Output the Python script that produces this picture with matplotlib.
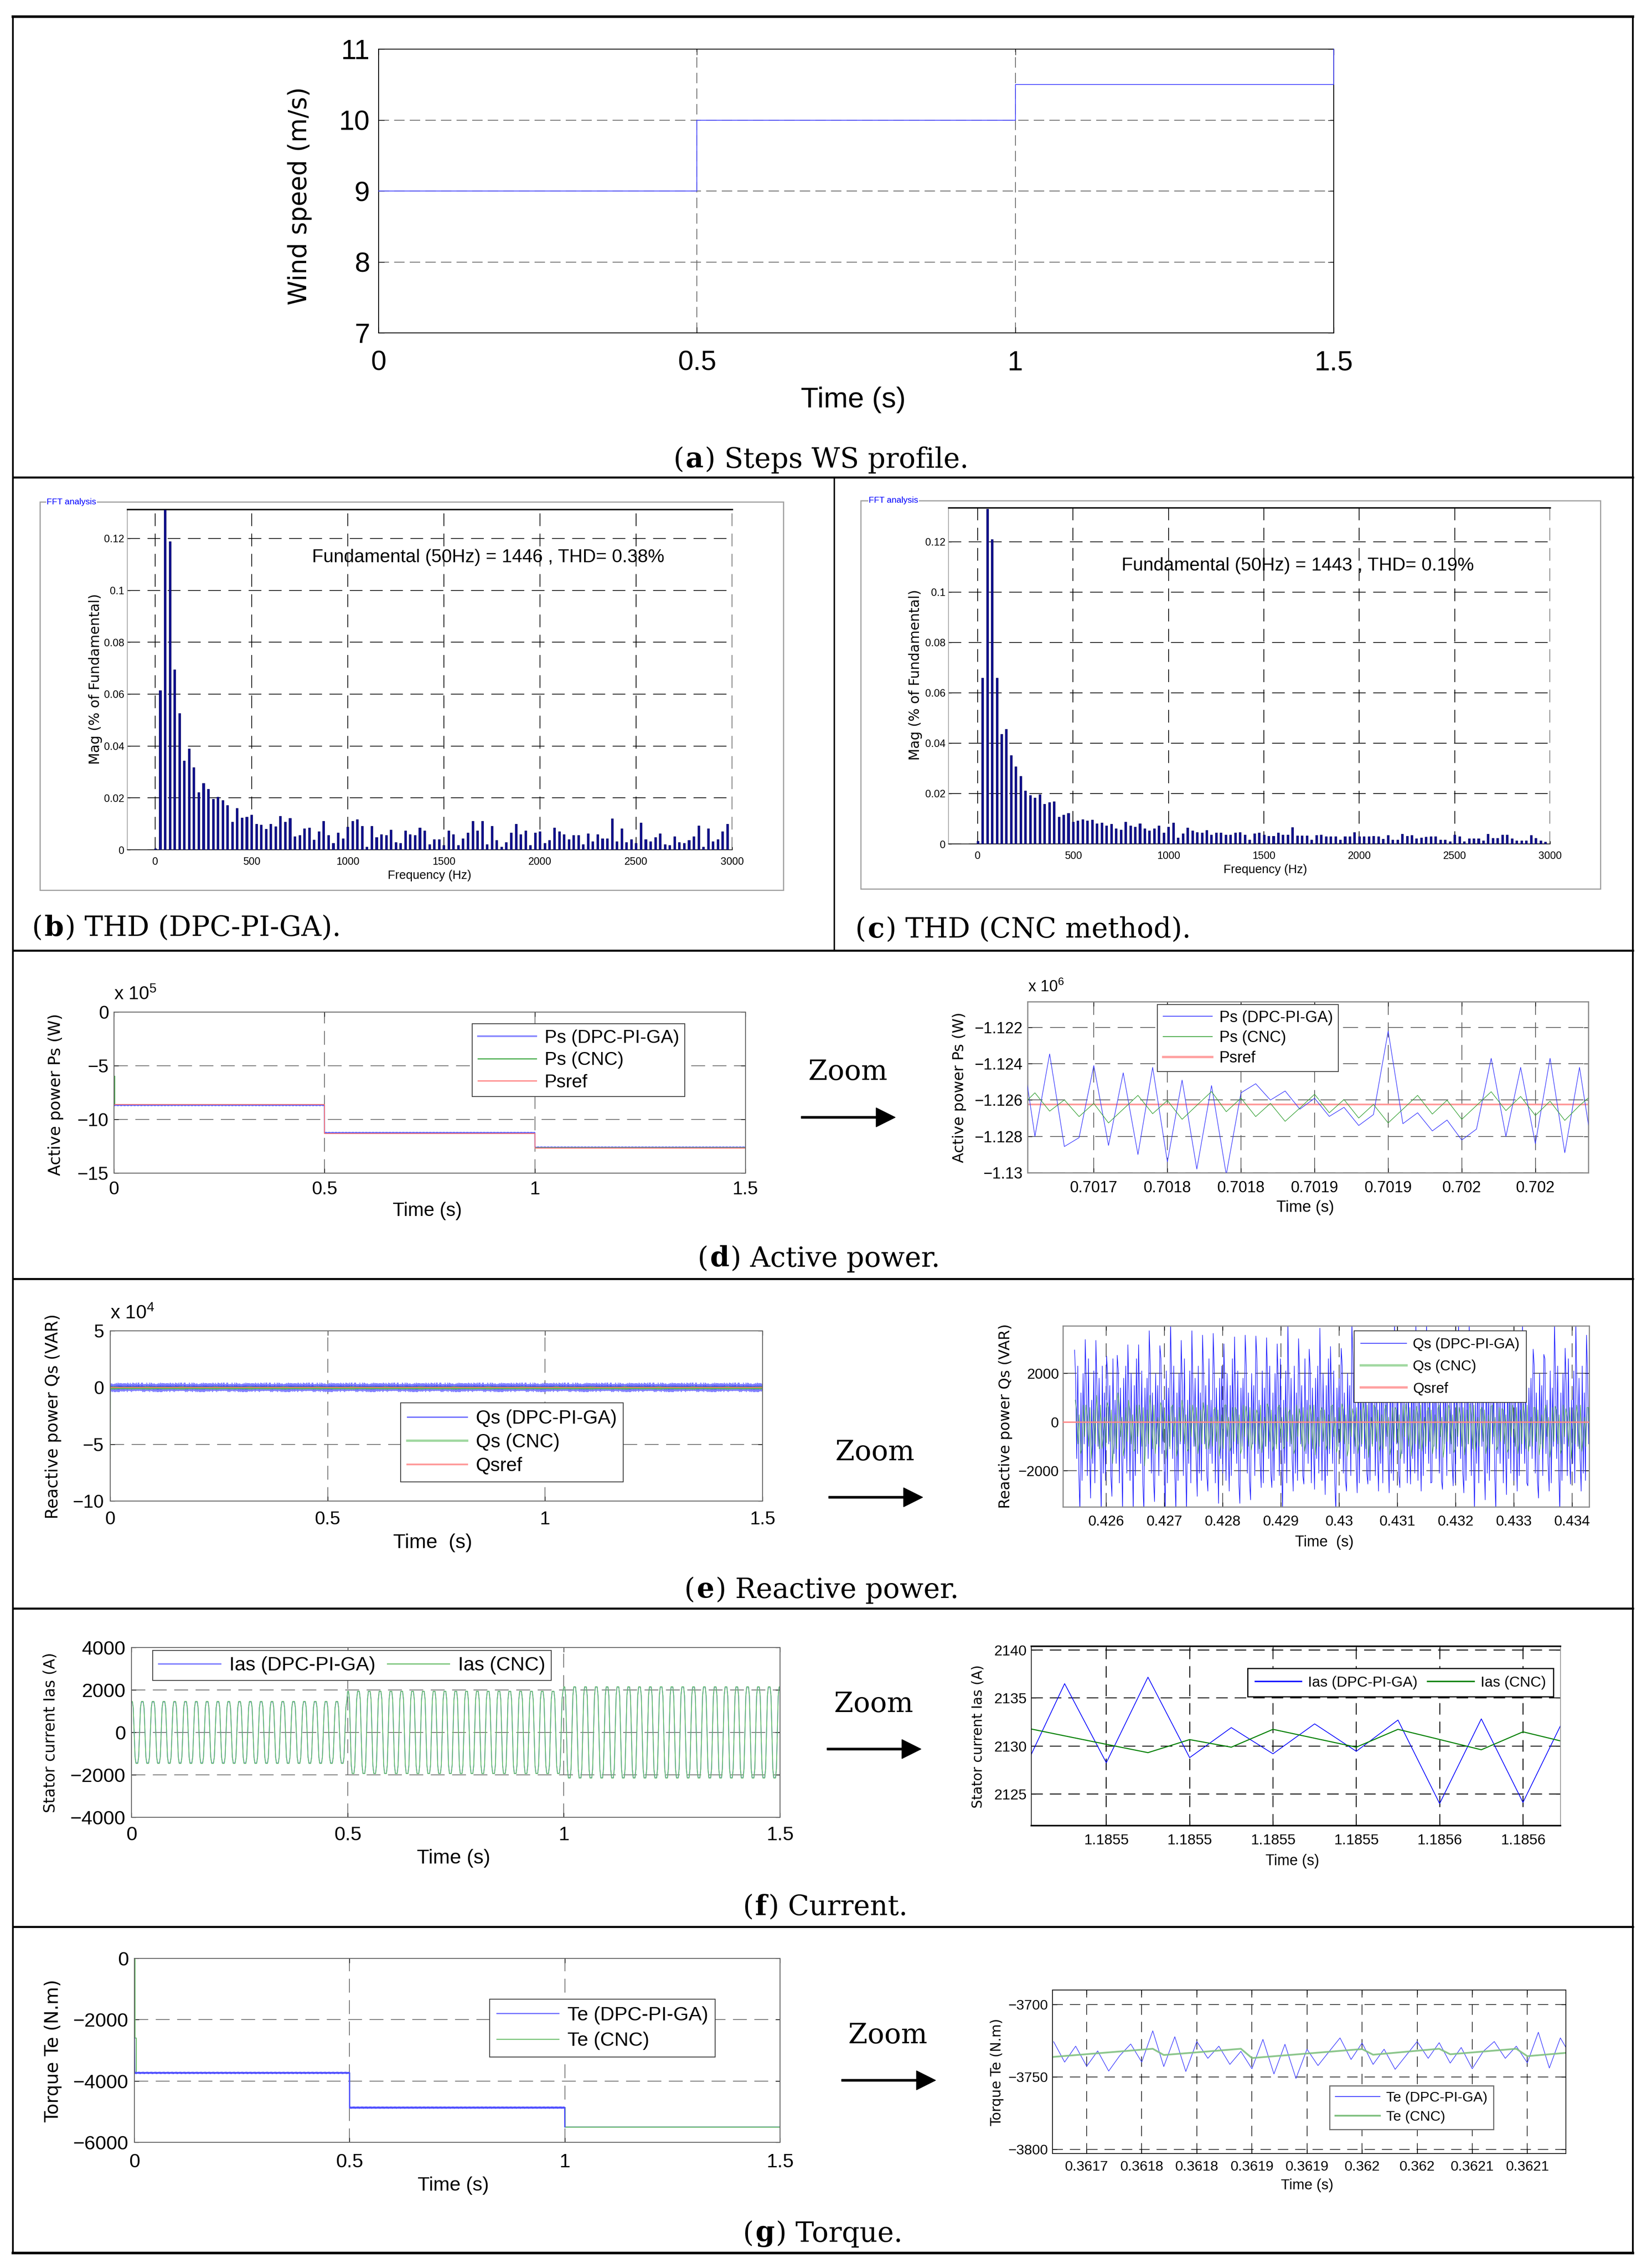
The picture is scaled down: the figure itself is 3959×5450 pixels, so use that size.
import numpy as np
import matplotlib
matplotlib.use("Agg")
import matplotlib.pyplot as plt
from matplotlib.lines import Line2D
from matplotlib.patches import Rectangle, FancyArrow
from matplotlib.ticker import FuncFormatter

# ---------------------------------------------------------------- data
# (a) wind speed profile, m/s
ws_time = [0.0, 0.5, 0.5, 1.0, 1.0, 1.5, 1.5]
ws_speed = [9.0, 9.0, 10.0, 10.0, 10.5, 10.5, 11.0]

# (b), (c) harmonic magnitudes (% of fundamental), one bar every 25 Hz from 0 Hz
fft_bin_hz = 25
thd_pi_ga = [
    0.0005, 0.0614, 0.131, 0.1188, 0.0694, 0.0526, 0.0344, 0.0389, 0.0317, 0.0221,
    0.0257, 0.0234, 0.0195, 0.0204, 0.0191, 0.0172, 0.0108, 0.016, 0.0123, 0.0127,
    0.0135, 0.01, 0.0096, 0.008, 0.01, 0.009, 0.013, 0.0108, 0.0122, 0.0052,
    0.0056, 0.0082, 0.0085, 0.0039, 0.007, 0.0111, 0.0056, 0.0026, 0.0066, 0.0043,
    0.0089, 0.0111, 0.0117, 0.0092, 0.0011, 0.0092, 0.0048, 0.0059, 0.0056, 0.0077,
    0.0029, 0.0026, 0.0074, 0.0059, 0.0056, 0.0085, 0.0074, 0.0021, 0.004, 0.004,
    0.0018, 0.0074, 0.0059, 0.0018, 0.0043, 0.0066, 0.0111, 0.0074, 0.0111, 0.0021,
    0.0092, 0.0037, 0.0011, 0.0029, 0.0066, 0.01, 0.0059, 0.0074, 0.0018, 0.0066,
    0.007, 0.0026, 0.0037, 0.0085, 0.007, 0.0059, 0.004, 0.0056, 0.0056, 0.0021,
    0.0063, 0.0032, 0.0059, 0.0044, 0.0044, 0.012, 0.0032, 0.0082, 0.0029, 0.004,
    0.0026, 0.0104, 0.004, 0.0032, 0.0048, 0.0063, 0.0021, 0.0018, 0.0052, 0.0029,
    0.0026, 0.0037, 0.0052, 0.0093, 0.0011, 0.0082, 0.0032, 0.004, 0.007, 0.01,
]
thd_cnc = [
    0.0012, 0.0659, 0.133, 0.121, 0.0659, 0.0437, 0.0456, 0.0352, 0.0308, 0.027,
    0.0212, 0.0193, 0.0183, 0.0197, 0.0158, 0.0166, 0.0168, 0.0107, 0.0115, 0.0122,
    0.0088, 0.0092, 0.0098, 0.0092, 0.0096, 0.0081, 0.0084, 0.0073, 0.008, 0.0061,
    0.0057, 0.0088, 0.0073, 0.0068, 0.0081, 0.0061, 0.0053, 0.0061, 0.0073, 0.0045,
    0.0068, 0.0084, 0.0024, 0.0042, 0.0065, 0.0053, 0.0047, 0.0045, 0.0054, 0.0036,
    0.0045, 0.0045, 0.0036, 0.0036, 0.0044, 0.0047, 0.0036, 0.0016, 0.0042, 0.0045,
    0.0036, 0.0032, 0.0032, 0.0045, 0.0036, 0.0036, 0.0066, 0.0033, 0.0033, 0.0033,
    0.0016, 0.0035, 0.0036, 0.003, 0.003, 0.003, 0.0016, 0.003, 0.003, 0.0046,
    0.003, 0.003, 0.003, 0.0032, 0.003, 0.002, 0.0035, 0.0016, 0.0016, 0.004,
    0.0032, 0.0035, 0.0022, 0.0025, 0.0028, 0.0029, 0.0029, 0.0016, 0.0016, 0.001,
    0.0036, 0.003, 0.001, 0.0022, 0.0022, 0.0022, 0.0013, 0.004, 0.0023, 0.0023,
    0.0036, 0.0036, 0.0022, 0.0013, 0.0013, 0.0013, 0.0035, 0.0023, 0.0013, 0.0009,
]
thd_pi_ga_note = "Fundamental (50Hz) = 1446 , THD= 0.38%"
thd_cnc_note = "Fundamental (50Hz) = 1443 , THD= 0.19%"

# wind steps shared by (d)-(g)
step_edges = [0.0, 0.5, 1.0, 1.5]

# (d) active power, W
ps_ref_lv = [-8.62e5, -11.33e5, -12.66e5]
ps_ref_end = -14.3e5
ps_pi_lv = [-8.66e5, -11.26e5, -12.62e5]
ps_cnc_lv = [-8.62e5, -11.30e5, -12.64e5]
ps_cnc_start = -5.98e5

# zoom windows are sampled every 10 us
zoom_dt = 1e-5

# (d) zoom, in 1e6 W, from 0.70165 s
ps_zoom_t0 = 0.70165
ps_zoom_pi = [
    -1.1225, -1.1280, -1.12346, -1.12856, -1.12807, -1.1241, -1.1285, -1.1245,
    -1.1290, -1.1242, -1.1294, -1.1249, -1.1298, -1.1252, -1.1301, -1.1256,
    -1.1251, -1.1260, -1.1255, -1.1265, -1.1259, -1.1269, -1.1264, -1.1274,
    -1.1268, -1.1222, -1.1273, -1.1267, -1.1277, -1.1271, -1.1282, -1.1276,
    -1.1237, -1.1280, -1.1242, -1.1284, -1.1237, -1.1289, -1.1242, -1.1294,
]
ps_zoom_cnc = [
    -1.1264, -1.12560, -1.12661, -1.12599, -1.12691, -1.12618, -1.12726, -1.12650,
    -1.12574, -1.12675, -1.12602, -1.12706, -1.12629, -1.12553, -1.12664, -1.12589,
    -1.12691, -1.12618, -1.12717, -1.12644, -1.12568, -1.12670, -1.12597, -1.12699,
    -1.12624, -1.12726, -1.12650, -1.12574, -1.12677, -1.12601, -1.12706, -1.12630,
    -1.12554, -1.12658, -1.12580, -1.12685, -1.12606, -1.12712, -1.1263, -1.1256,
]
ps_zoom_ref = -1.12623

# (e) reactive power zoom, VAR: spike peaks, one pair every 0.183 ms from 0.42546 s,
# with the smaller swings seen between the spikes
qs_t0 = 0.42546
qs_period = 0.000183
qs_pi_top = [
    2957, 3388, 3353, 2705, 2741, 3173, 3173, 3748, 3137, 4100, 3353, 3748, 3568,
    3640, 3209, 3496, 3568, 3532, 3460, 3209, 4100, 3424, 2993, 3856, 3101, 3029,
    4100, 3676, 3353, 3281, 4100, 2921, 4100, 4100, 2777, 2993, 4100, 4100, 2921,
    2705, 3065, 2849, 4100, 2993, 2777, 4100, 3029, 4100, 3568,
]
qs_pi_bottom = [
    -3700, -3122, -3700, -3050, -3700, -3700, -3700, -3266, -3700, -3700, -3700,
    -3050, -2835, -3338, -2835, -3338, -3194, -2691, -2691, -3700, -2835, -2547,
    -2763, -2978, -3700, -2835, -2906, -2547, -2835, -2906, -2691, -2547, -2835,
    -2475, -2763, -2619, -2906, -3700, -3194, -3700, -2978, -2835, -2619, -3122,
    -2835, -3700, -2547, -2835, -3000,
]
qs_pi_mid = [1800, -1500, 2300, -2100, 1200, -2400, 2000, -900, 1500, -2200, 2600,
             -1300, 900, -1700, 2100, -2500, 1400, -1000]
qs_cnc_top = [
    900, 700, 1100, 800, 1200, 900, 700, 1100, 800, 600, 900, 700, 800, 500, 700,
    600, 650, 500, 750, 600, 400, 550, 700, 450, 650, 750, 550, 800, 700, 500, 600,
    750, 650, 450, 550, 700, 600, 750, 500, 650, 550, 700, 750, 600, 450, 650, 550,
    700, 600,
]
qs_cnc_bottom = [
    -1300, -1500, -1100, -1700, -1400, -1200, -1800, -1300, -1500, -1400, -1200,
    -1300, -1100, -1400, -1200, -1300, -1150, -1250, -1200, -1100, -1300, -1200,
    -1350, -1150, -1250, -1400, -1300, -1450, -1200, -1350, -1500, -1400, -1200,
    -1300, -1450, -1250, -1350, -1200, -1300, -1150, -1250, -1300, -1200, -1350,
    -1450, -1300, -1500, -1200, -1300,
]
qs_cnc_mid = [500, -900, 300, -1100, 700, -600, 200, -1000, 600, -800]
qs_ref = 0.0
qs_cnc_start_dip = -6.3e4

# (f) stator current, A: amplitude per wind step, cycles drawn per step, one cycle shape
ias_pi_amp = [1440, 1930, 2135]
ias_cnc_amp = [1460, 1940, 2150]
ias_cycles_per_step = 20
ias_cycle_shape = [1.0, 1.0, 0.8, 0.0, -0.8, -1.0, -1.0, -1.0, -0.8, 0.0, 0.8, 1.0]
# (f) zoom from 1.18546 s
ias_zoom_t0 = 1.18546
ias_zoom_pi = [2127.3, 2136.50, 2128.26, 2137.18, 2128.79, 2131.92, 2129.19,
               2132.31, 2129.45, 2132.71, 2124.0, 2132.83, 2124.12, 2133.0]
ias_zoom_cnc = [2131.95, 2131.06, 2130.18, 2129.31, 2130.67, 2129.88, 2131.74,
                2130.81, 2129.88, 2131.74, 2130.68, 2129.61, 2131.48, 2130.43]

# (g) electromagnetic torque, N.m
te_pi_lv = [-3734, -4870, -5494]
te_cnc_lv = [-3733, -4864, -5494]
te_start = -2590
# (g) zoom from 0.36167 s
te_zoom_t0 = 0.36167
te_zoom_pi = [
    -3725.7, -3739.8, -3728.8, -3742.7, -3732.1, -3746.0, -3735.4, -3727.3, -3739.8,
    -3718.2, -3742.9, -3722.3, -3746.3, -3725.6, -3737.2, -3728.8, -3741.4, -3732.4,
    -3744.4, -3724.1, -3748.0, -3727.5, -3751.1, -3730.9, -3742.2, -3732.6, -3723.1,
    -3738.0, -3726.6, -3741.4, -3730.9, -3744.8, -3735.2, -3725.6, -3737.2, -3726.4,
    -3740.5, -3729.7, -3744.4, -3732.4, -3725.6, -3737.2, -3728.8, -3740.3, -3719.2,
    -3743.9, -3723.1, -3736.2,
]
te_zoom_cnc_t = [0.36167, 0.36176, 0.36177, 0.36184, 0.36185, 0.36195, 0.36196,
                 0.36202, 0.36203, 0.36209, 0.36210, 0.36214]
te_zoom_cnc = [-3736.2, -3730.6, -3734.9, -3730.6, -3737.0, -3730.8, -3734.7,
               -3730.6, -3734.4, -3730.6, -3735.7, -3733.1]

# ---------------------------------------------------------------- setup
W, H = 3959, 5450
SANS = ["Liberation Sans", "DejaVu Sans"]
WIDE = ["DejaVu Sans"]
SERIF = ["DejaVu Serif"]

plt.rcParams["font.family"] = SANS
plt.rcParams["lines.scale_dashes"] = False
plt.rcParams["axes.unicode_minus"] = True
plt.rcParams["mathtext.fontset"] = "custom"
plt.rcParams["mathtext.rm"] = "Liberation Sans"

fig = plt.figure(figsize=(W / 100, H / 100), dpi=100)
fig.patch.set_facecolor("white")


def fx(x):
    return x / W


def fy(y):
    return 1 - y / H


def px_box(l, t, r, b):
    return [l / W, 1 - b / H, (r - l) / W, (b - t) / H]


def minus_fmt(v, pos):
    return ("%g" % v).replace("-", "\u2212")


def dress(ax, fs, xpad, ypad, grid_color="#707070", dash=(24, 13), grid_lw=1.4,
          spine_color="#606060", spine_lw=1.5, tick_len=8):
    ax.tick_params(axis="both", direction="in", length=tick_len, width=1.0,
                   labelsize=fs, top=True, right=True, colors="black")
    ax.tick_params(axis="x", pad=xpad)
    ax.tick_params(axis="y", pad=ypad)
    for s in ax.spines.values():
        s.set_color(spine_color)
        s.set_linewidth(spine_lw)
    ax.grid(True, color=grid_color, linestyle=(0, dash), linewidth=grid_lw)
    ax.set_axisbelow(True)
    ax.yaxis.set_major_formatter(FuncFormatter(minus_fmt))


def labels(xlab, xpos, xfs, ylab, ypos, yfs):
    fig.text(fx(xpos[0]), fy(xpos[1]), xlab, fontsize=xfs, ha="center", va="center")
    fig.text(fx(ypos[0]), fy(ypos[1]), ylab, family=WIDE, fontsize=yfs,
             rotation=90, ha="center", va="center")


def place_legend(ax, handles, names, x, y, fs, ncol=1, ls=0.3, bp=0.35, hl=3.15,
                 htp=0.45, cs=0.6, edge="#404040", lw=1.5):
    leg = ax.legend(handles, names, loc="upper left", bbox_to_anchor=(fx(x), fy(y)),
                    bbox_transform=fig.transFigure, fontsize=fs, ncol=ncol,
                    labelspacing=ls, borderpad=bp, handlelength=hl, handletextpad=htp,
                    columnspacing=cs, borderaxespad=0, fancybox=False, framealpha=1,
                    edgecolor=edge)
    leg.get_frame().set_linewidth(lw)
    return leg


def step_ripple(t, levels, ripple):
    seg = np.clip(np.searchsorted(step_edges, t, side="right") - 1, 0, len(levels) - 1)
    return np.asarray(levels, float)[seg] + np.resize(np.asarray(ripple, float), t.size)


def spike_series(t0, period, tops, bottoms, mids, per_half=3):
    vals = []
    j = 0
    for k in range(len(tops)):
        vals.append(tops[k])
        for _ in range(per_half):
            vals.append(mids[j % len(mids)])
            j += 1
        vals.append(bottoms[k])
        for _ in range(per_half):
            vals.append(mids[j % len(mids)])
            j += 1
    t = t0 + np.arange(len(vals)) * period / (2 * per_half + 2)
    return t, np.array(vals, float)


def wave_series(amps):
    ts, vs = [], []
    n = ias_cycles_per_step * len(ias_cycle_shape)
    for k, amp in enumerate(amps):
        dt = (step_edges[k + 1] - step_edges[k]) / n
        ts.append(step_edges[k] + np.arange(n) * dt)
        vs.append(amp * np.resize(np.asarray(ias_cycle_shape, float), n))
    return np.concatenate(ts + [[step_edges[-1]]]), np.concatenate(vs + [[amps[-1] * ias_cycle_shape[0]]])


def fig_line(x0, y0, x1, y1, lw=4.0):
    fig.add_artist(Line2D([fx(x0), fx(x1)], [fy(y0), fy(y1)], transform=fig.transFigure,
                          color="black", lw=lw, solid_capstyle="projecting"))


def caption(x, y, letter, rest, center=False, size=48):
    r = fig.canvas.get_renderer()
    parts = [("(", "normal"), (letter, "bold"), (") " + rest, "normal")]
    texts = [fig.text(0, fy(y), s, family=SERIF, fontsize=size, fontweight=w,
                      ha="left", va="center") for s, w in parts]
    widths = [t.get_window_extent(r).width + 3 for t in texts]
    x0 = x - sum(widths) / 2 if center else x
    for t, w in zip(texts, widths):
        t.set_x(fx(x0))
        x0 += w


def zoom_arrow(tx, ty, x0, x1, y):
    fig.text(fx(tx), fy(ty), "Zoom", family=SERIF, fontsize=48, ha="center", va="center")
    fig.add_artist(FancyArrow(fx(x0), fy(y), fx(x1 - x0), 0, width=5 / H, head_width=46 / H,
                              head_length=46 / W, length_includes_head=True, color="black",
                              transform=fig.transFigure))


def sci(x, y, power, fs):
    fig.text(fx(x), fy(y), r"x 10$^{\mathregular{%d}}$" % power, fontsize=fs, ha="left", va="center")


left_ticks = [0, 0.5, 1, 1.5]
left_tick_labels = ["0", "0.5", "1", "1.5"]
t_grid = np.arange(0.0, 1.5 + 1e-9, 2e-4)

# ---------------------------------------------------------------- frame
fig_line(31, 40, 3925, 40, lw=4.5)
fig_line(31, 5414, 3925, 5414, lw=4.5)
fig_line(31, 40, 31, 5414, lw=3)
fig_line(3925, 40, 3925, 5414, lw=3)
for yy in [1147, 2284, 3073, 3865, 4630]:
    fig_line(31, yy, 3925, yy, lw=3.5)
fig_line(2005, 1147, 2005, 2284, lw=2.5)

# ---------------------------------------------------------------- (a)
ax = fig.add_axes(px_box(910, 118, 3206, 800))
ax.plot(ws_time, ws_speed, color="#3b3bff", lw=1.3, zorder=4, clip_on=False)
ax.set_xlim(0, 1.5)
ax.set_ylim(7, 11)
ax.set_xticks(left_ticks, left_tick_labels)
ax.set_yticks([7, 8, 9, 10, 11])
dress(ax, 48, 30, 15, grid_color="#606060", dash=(18, 9), grid_lw=1.3,
      spine_color="black", spine_lw=1.5, tick_len=10)
labels("Time (s)", (2051, 961), 50, "Wind speed (m/s)", (720, 471), 43)
caption(1975, 1105, "a", "Steps WS profile.", center=True)

# ---------------------------------------------------------------- (b) (c)
def fft_panel(box, frame, tag_x, mags, note, note_xy, ytop, xleft, xlab_xy, ylab_xy):
    ax = fig.add_axes(px_box(*box))
    freq = np.arange(len(mags)) * fft_bin_hz
    ax.bar(freq, mags, width=11, color="#10108f", edgecolor="#00005a", linewidth=0.6, zorder=3)
    ax.set_xlim(xleft, 3000)
    ax.set_ylim(0, ytop)
    ax.set_xticks([0, 500, 1000, 1500, 2000, 2500, 3000])
    ax.set_yticks([0, 0.02, 0.04, 0.06, 0.08, 0.1, 0.12])
    dress(ax, 18, 12, 5, grid_color="black", dash=(22, 13), grid_lw=1.3,
          spine_color="black", spine_lw=1.2, tick_len=5)
    ax.xaxis.set_major_formatter(FuncFormatter(minus_fmt))
    ax.spines["top"].set_linewidth(2.5)
    ax.spines["right"].set_visible(False)
    ax.spines["left"].set_color("#999999")
    ax.tick_params(top=False, right=False)
    l, t, r, b = frame
    fig.add_artist(Rectangle((fx(l), fy(b)), fx(r) - fx(l), fy(t) - fy(b), fill=False,
                             edgecolor="#a0a0a0", lw=2, transform=fig.transFigure))
    fig.text(fx(tag_x), fy(t), "FFT analysis", color="#0000ff", fontsize=15, ha="left",
             va="center", bbox=dict(facecolor="white", edgecolor="none", pad=1))
    fig.text(fx(note_xy[0]), fy(note_xy[1]), note, fontsize=32, ha="left", va="center")
    labels("Frequency (Hz)", xlab_xy, 21, "Mag (% of Fundamental)", ylab_xy, 24)


fft_panel((306, 1224, 1760, 2042), (96, 1206, 1883, 2139), 112, thd_pi_ga, thd_pi_ga_note,
          (750, 1339), 0.1312, -146, (1032, 2104), (230, 1632))
fft_panel((2280, 1220, 3726, 2028), (2069, 1203, 3847, 2136), 2088, thd_cnc, thd_cnc_note,
          (2696, 1360), 0.1335, -153, (3041, 2090), (2200, 1622))
caption(77, 2230, "b", "THD (DPC-PI-GA).")
caption(2056, 2234, "c", "THD (CNC method).")

# ---------------------------------------------------------------- (d) left
ax = fig.add_axes(px_box(274, 2432, 1792, 2819))
ps_rip = (np.array(ps_zoom_pi) - np.mean(ps_zoom_pi)) * 1e6
ax.plot(t_grid, step_ripple(t_grid, ps_pi_lv, ps_rip) / 1e5, color="#6a6aff", lw=2.0)
ax.step([0.0, 0.002] + step_edges[1:], [ps_cnc_start / 1e5] + [v / 1e5 for v in ps_cnc_lv] + [ps_cnc_lv[-1] / 1e5],
        where="post", color="#4caf50", lw=1.4)
ax.step(step_edges[:3] + [1.499, 1.5], [v / 1e5 for v in ps_ref_lv] + [ps_ref_lv[-1] / 1e5, ps_ref_end / 1e5],
        where="post", color="#ff6f6f", lw=1.4)
ax.set_xlim(0, 1.5)
ax.set_ylim(-15, 0)
ax.set_xticks(left_ticks, left_tick_labels)
ax.set_yticks([-15, -10, -5, 0])
dress(ax, 32, 14, 9)
sci(274, 2390, 5, 32)
labels("Time (s)", (1027, 2910), 33, "Active power Ps (W)", (134, 2630), 28)
place_legend(ax, [Line2D([], [], color="#8c8cff", lw=3), Line2D([], [], color="#4caf50", lw=2),
                  Line2D([], [], color="#ff8080", lw=2)],
             ["Ps (DPC-PI-GA)", "Ps (CNC)", "Psref"], 1135, 2460, 32, ls=0.28, bp=0.31)
zoom_arrow(2038, 2576, 1926, 2152, 2685)

# ---------------------------------------------------------------- (d) zoom
ax = fig.add_axes(px_box(2470, 2407, 3818, 2818))
pt = ps_zoom_t0 + np.arange(len(ps_zoom_pi)) * zoom_dt
ax.axhline(ps_zoom_ref, color="#ff9a9a", lw=3.0, zorder=2)
ax.plot(pt, ps_zoom_pi, color="#3333ff", lw=1.0, zorder=3)
ax.plot(pt, ps_zoom_cnc, color="#33a033", lw=1.0, zorder=3)
ax.set_xlim(0.701655, 0.702036)
ax.set_ylim(-1.1300, -1.12058)
ax.set_xticks([0.70170, 0.70175, 0.70180, 0.70185, 0.70190, 0.70195, 0.70200],
              ["0.7017", "0.7018", "0.7018", "0.7019", "0.7019", "0.702", "0.702"])
ax.set_yticks([-1.13, -1.128, -1.126, -1.124, -1.122])
dress(ax, 27, 14, 9, grid_color="#606060", dash=(26, 13), spine_color="#8a8a8a", spine_lw=2.0)
sci(2471, 2372, 6, 27)
labels("Time (s)", (3137, 2902), 27.5, "Active power Ps (W)", (2306, 2613), 26)
place_legend(ax, [Line2D([], [], color="#3333ff", lw=1.3), Line2D([], [], color="#33a033", lw=1.3),
                  Line2D([], [], color="#ffa0a0", lw=4)],
             ["Ps (DPC-PI-GA)", "Ps (CNC)", "Psref"], 2782, 2414, 27, ls=0.34, bp=0.36)
caption(1677, 3025, "d", "Active power.")

# ---------------------------------------------------------------- (e) left
ax = fig.add_axes(px_box(265, 3198, 1833, 3607))
qt_pi, qv_pi = spike_series(qs_t0, qs_period, qs_pi_top, qs_pi_bottom, qs_pi_mid, per_half=4)
qt_cnc, qv_cnc = spike_series(qs_t0 + qs_period / 16, qs_period, qs_cnc_top, qs_cnc_bottom, qs_cnc_mid)
ax.plot(t_grid, np.resize(qv_pi, t_grid.size) / 1e4, color="#8080ff", lw=1.4)
ax.plot(t_grid, np.resize(qv_pi, t_grid.size) / 2.2e4, color="#3030ff", lw=0.6)
g = np.resize(qv_cnc, t_grid.size) / 1e4
ax.plot(np.concatenate([[0.0, 0.0005], t_grid[4:]]), np.concatenate([[0.0, qs_cnc_start_dip / 1e4], g[4:]]),
        color="#5cb85c", lw=0.8)
ax.axhline(qs_ref / 1e4, color="#ff6f6f", lw=1.5)
ax.set_xlim(0, 1.5)
ax.set_ylim(-10, 5)
ax.set_xticks(left_ticks, left_tick_labels)
ax.set_yticks([-10, -5, 0, 5])
dress(ax, 32, 17, 11)
sci(265, 3157, 4, 33)
labels("Time  (s)", (1040, 3707), 35, "Reactive power Qs (VAR)", (128, 3404), 28.5)
place_legend(ax, [Line2D([], [], color="#6060ff", lw=2), Line2D([], [], color="#a0d8a0", lw=4),
                  Line2D([], [], color="#ff9a9a", lw=3)],
             ["Qs (DPC-PI-GA)", "Qs (CNC)", "Qsref"], 963, 3371, 33, ls=0.29, bp=0.34)
zoom_arrow(2103, 3490, 1992, 2218, 3598)

# ---------------------------------------------------------------- (e) zoom
ax = fig.add_axes(px_box(2555, 3186, 3820, 3621))
ax.plot(qt_pi, qv_pi, color="#1a1aff", lw=1.0, zorder=2)
ax.plot(qt_cnc, qv_cnc, color="#3fa045", lw=1.0, alpha=0.85, zorder=3)
ax.axhline(qs_ref, color="#ff8a8a", lw=2.5, zorder=4)
ax.set_xlim(0.42526, 0.43429)
ax.set_ylim(-3482, 3950)
ax.set_xticks([0.426, 0.427, 0.428, 0.429, 0.430, 0.431, 0.432, 0.433, 0.434])
ax.xaxis.set_major_formatter(FuncFormatter(minus_fmt))
ax.set_yticks([-2000, 0, 2000])
dress(ax, 25, 14, 7, grid_color="#555555", dash=(24, 13), spine_color="#8a8a8a", spine_lw=2.0)
labels("Time  (s)", (3183, 3707), 26, "Reactive power Qs (VAR)", (2417, 3403), 25.7)
place_legend(ax, [Line2D([], [], color="#3030ff", lw=1.3), Line2D([], [], color="#a0d8a0", lw=4),
                  Line2D([], [], color="#ffa0a0", lw=4)],
             ["Qs (DPC-PI-GA)", "Qs (CNC)", "Qsref"], 3255, 3198, 25, ls=0.58, bp=0.47)
caption(1645, 3821, "e", "Reactive power.")

# ---------------------------------------------------------------- (f) left
ax = fig.add_axes(px_box(316, 3959, 1875, 4367))
it, iv = wave_series(ias_pi_amp)
ax.plot(it, iv, color="#5050ff", lw=1.4)
it, iv = wave_series(ias_cnc_amp)
ax.plot(it, iv, color="#66c266", lw=1.4)
ax.set_xlim(0, 1.5)
ax.set_ylim(-4000, 4000)
ax.set_xticks(left_ticks, left_tick_labels)
ax.set_yticks([-4000, -2000, 0, 2000, 4000])
dress(ax, 34, 15, 10)
labels("Time (s)", (1090, 4465), 35, "Stator current Ias (A)", (121, 4163), 26.4)
place_legend(ax, [Line2D([], [], color="#8080ff", lw=2.5), Line2D([], [], color="#70c070", lw=2)],
             ["Ias (DPC-PI-GA)", "Ias (CNC)"], 367, 3966, 34, ncol=2, bp=0.3, cs=0.6)
zoom_arrow(2100, 4095, 1988, 2214, 4203)

# ---------------------------------------------------------------- (f) zoom
ax = fig.add_axes(px_box(2479, 3956, 3751, 4387))
itz = ias_zoom_t0 + np.arange(len(ias_zoom_pi)) * zoom_dt
ax.plot(itz, ias_zoom_pi, color="#0000ff", lw=1.3)
ax.plot(itz, ias_zoom_cnc, color="#008000", lw=1.8)
ax.set_xlim(1.185462, 1.185589)
ax.set_ylim(2121.7, 2140.4)
ax.set_xticks([1.18548, 1.18550, 1.18552, 1.18554, 1.18556, 1.18558],
              ["1.1855", "1.1855", "1.1855", "1.1855", "1.1856", "1.1856"])
ax.set_yticks([2125, 2130, 2135, 2140])
dress(ax, 25.5, 14, 8, grid_color="black", dash=(20, 12), grid_lw=1.6,
      spine_color="black", spine_lw=1.2)
ax.spines["top"].set_linewidth(2.6)
ax.spines["bottom"].set_linewidth(2.6)
ax.spines["right"].set_color("#888888")
labels("Time (s)", (3106, 4473), 25.6, "Stator current Ias (A)", (2351, 4173), 23.6)
place_legend(ax, [Line2D([], [], color="#0000ff", lw=2.5), Line2D([], [], color="#008000", lw=2.5)],
             ["Ias (DPC-PI-GA)", "Ias (CNC)"], 2999, 4009, 25.5, ncol=2, bp=0.5, cs=0.67,
             edge="black", lw=2)
caption(1786, 4583, "f", "Current.")

# ---------------------------------------------------------------- (g) left
ax = fig.add_axes(px_box(323, 4706, 1875, 5148))
te_rip = np.array(te_zoom_pi) - np.mean(te_zoom_pi)
tb = step_ripple(t_grid, te_pi_lv, te_rip)
late = t_grid >= step_edges[2]
ax.plot(t_grid[late], np.full(late.sum(), te_pi_lv[2]), color="#5050ff", lw=1.2)
ax.step([0.0, 0.001, 0.004] + step_edges[1:], [0.0, te_start] + te_cnc_lv + [te_cnc_lv[-1]],
        where="post", color="#66bb66", lw=1.8)
early = ~late
ax.plot(np.concatenate([[0.0], t_grid[early][3:], [step_edges[2]]]),
        np.concatenate([[te_start], tb[early][3:], [te_pi_lv[2]]]), color="#5050ff", lw=2.2)
ax.set_xlim(0, 1.5)
ax.set_ylim(-6000, 0)
ax.set_xticks(left_ticks, left_tick_labels)
ax.set_yticks([-6000, -4000, -2000, 0])
dress(ax, 34, 19, 10)
labels("Time (s)", (1090, 5252), 34, "Torque Te (N.m)", (128, 4928), 31.5)
place_legend(ax, [Line2D([], [], color="#6060ff", lw=1.8), Line2D([], [], color="#70c070", lw=1.8)],
             ["Te (DPC-PI-GA)", "Te (CNC)"], 1177, 4804, 34, ls=0.37, bp=0.36)
zoom_arrow(2134, 4891, 2023, 2249, 4999)

# ---------------------------------------------------------------- (g) zoom
ax = fig.add_axes(px_box(2530, 4782, 3764, 5175))
ax.plot(te_zoom_t0 + np.arange(len(te_zoom_pi)) * zoom_dt, te_zoom_pi, color="#4040ff", lw=1.1)
ax.plot(te_zoom_cnc_t, te_zoom_cnc, color="#80c080", lw=3.0, alpha=0.9)
ax.set_xlim(0.361669, 0.362135)
ax.set_ylim(-3803, -3690)
ax.set_xticks([0.36170, 0.36175, 0.36180, 0.36185, 0.36190, 0.36195, 0.36200, 0.36205, 0.36210],
              ["0.3617", "0.3618", "0.3618", "0.3619", "0.3619", "0.362", "0.362", "0.3621", "0.3621"])
ax.set_yticks([-3800, -3750, -3700])
dress(ax, 24.5, 12, 8, grid_color="black", dash=(18, 12), grid_lw=1.1,
      spine_color="black", spine_lw=1.3)
labels("Time (s)", (3142, 5252), 25, "Torque Te (N.m)", (2397, 4980), 23.8)
place_legend(ax, [Line2D([], [], color="#4040ff", lw=1.5), Line2D([], [], color="#80c080", lw=3)],
             ["Te (DPC-PI-GA)", "Te (CNC)"], 3196, 5012, 24.5, ls=0.44, bp=0.41, edge="#707070", lw=2)
caption(1786, 5368, "g", "Torque.")

fig.savefig("out.png", dpi=100, facecolor="white")
